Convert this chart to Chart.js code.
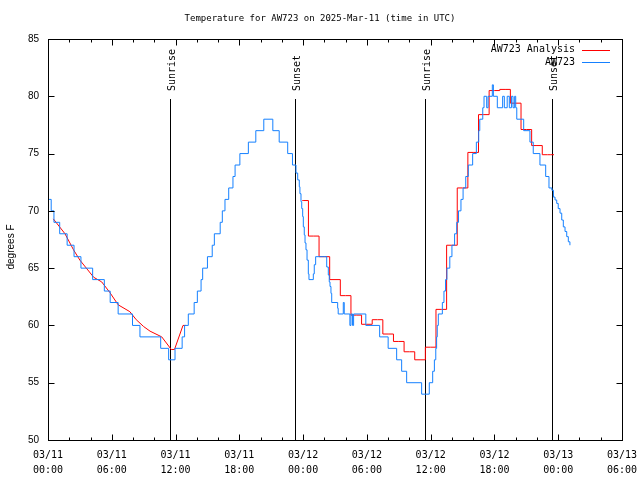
<!DOCTYPE html>
<html>
<head>
<meta charset="utf-8">
<title>Temperature for AW723</title>
<script src="https://cdn.jsdelivr.net/npm/chart.js@4/dist/chart.umd.min.js"></script>
<style>
  html, body { margin: 0; padding: 0; background: #fff; }
  canvas { display: block; }
</style>
</head>
<body>
<canvas id="chart" width="640" height="480"></canvas>
<script>
// all times are hours since 03/11 00:00 UTC
const titleText = 'Temperature for AW723 on 2025-Mar-11 (time in UTC)';
const yAxisLabel = 'degrees F';

const xTickDays  = ['03/11', '03/11', '03/11', '03/11', '03/12', '03/12', '03/12', '03/12', '03/13', '03/13'];
const xTickTimes = ['00:00', '06:00', '12:00', '18:00', '00:00', '06:00', '12:00', '18:00', '00:00', '06:00'];

const sunHours  = [11.48, 23.26, 35.49, 47.37];
const sunLabels = ['Sunrise', 'Sunset', 'Sunrise', 'Sunset'];

// station observations (time of each change, new value)
const blueHours = [0.10, 0.30, 0.56, 1.10, 1.80, 2.45, 3.10, 4.20, 5.30, 5.85, 6.60, 7.95, 8.65, 10.60, 11.35,
  11.95, 12.62, 12.85, 13.20, 13.75, 14.05, 14.40, 14.55, 15.00, 15.45, 15.65, 16.20, 16.40, 16.65, 17.00,
  17.40, 17.60, 18.05, 18.85, 19.55, 20.30, 21.15, 21.75, 22.55, 23.00, 23.33, 23.49, 23.64, 23.70, 23.80,
  23.87, 23.96, 24.02, 24.11, 24.18, 24.27, 24.37, 24.49, 24.55, 24.96, 25.05, 25.18, 26.22, 26.37, 26.46,
  26.53, 26.62, 26.69, 27.25, 27.30, 27.78, 27.87, 28.40, 28.50, 28.65, 28.75, 29.90, 31.20, 32.00, 32.80,
  33.27, 33.74, 35.15, 35.87, 36.19, 36.35, 36.48, 36.56, 36.62, 36.72, 37.10, 37.25, 37.40, 37.53, 37.80,
  38.00, 38.25, 38.45, 38.62, 38.85, 39.05, 39.30, 39.54, 39.95, 40.30, 40.52, 40.62, 40.90, 41.02, 41.27,
  41.40, 41.80, 41.90, 42.27, 42.77, 42.93, 43.20, 43.40, 43.60, 43.75, 43.90, 44.00, 44.10, 44.75, 45.34,
  45.65, 46.28, 46.82, 47.13, 47.40, 47.55, 47.70, 47.86, 48.00, 48.17, 48.33, 48.48, 48.64, 48.80, 48.95,
  49.10];
const blueTemps = [71, 70, 69, 68, 67, 66, 65, 64, 63, 62, 61, 60, 59, 58, 57,
  58, 59, 60, 61, 62, 63, 64, 65, 66, 67, 68, 69, 70, 71, 72,
  73, 74, 75, 76, 77, 78, 77, 76, 75, 74, 73.3, 72.7, 72.1, 71.5, 70.8,
  70.2, 69.5, 68.6, 67.9, 67.2, 66.6, 65.7, 64.5, 64, 64.5, 65.3, 66, 65.1, 64.4, 63.8,
  63.4, 62.8, 62, 61.5, 61, 62, 61, 60, 61, 60, 61, 60, 59, 58, 57,
  56, 55, 54, 55, 56, 57, 58, 59, 60, 61, 62, 63, 64, 65, 66,
  67, 68, 69, 70, 71, 72, 73, 74, 75, 76, 77, 78, 79, 80, 79,
  80, 81, 80, 79, 80, 79, 80, 79, 80, 79, 80, 79, 78, 77, 76,
  75, 74, 73, 72, 71.8, 71.2, 70.95, 70.65, 70.2, 69.8, 69.2, 68.6, 68.2, 67.75, 67.3,
  67.0];

// analysis, first day (fine resolution)
const redEarlyHours = [0.5, 1.6, 2.4, 3.0, 4.3, 5.05, 5.8, 6.6, 7.7, 8.3, 9.0, 9.6, 10.7, 11.6, 11.9, 12.7, 13.0];
const redEarlyTemps = [69.3, 68.0, 66.6, 65.7, 64.2, 63.8, 62.9, 61.8, 61.2, 60.5, 59.9, 59.5, 59.0, 57.9, 57.9, 60.0, 60.0];

// analysis, hourly values
const redHourlyHours = [23.9, 24, 25, 26, 27, 28, 29, 30, 31, 32, 33, 34, 35, 36, 37, 38, 39, 40, 41, 42, 43, 44, 45, 46, 47, 47.6];
const redHourlyTemps = [70.9, 70.9, 67.8, 66.0, 64.0, 62.6, 60.9, 60.1, 60.5, 59.25, 58.6, 57.7, 57.0, 58.1, 61.4,
  67.0, 72.0, 75.1, 78.4, 80.5, 80.6, 79.4, 77.1, 75.7, 74.9, 74.9];

const redColor = '#ff0000';
const blueColor = '#1580ff';
const monoFont = '"DejaVu Sans Mono", monospace';
const sansFont = '"Liberation Sans", Arial, sans-serif';

function zip(xs, ys) {
    return xs.map((x, i) => ({ x: x, y: ys[i] }));
}

// gnuplot style border, inward ticks, labels and key
const gnuplotDecor = {
    id: 'gnuplotDecor',
    beforeDatasetsDraw(chart) {
        const ctx = chart.ctx;
        const xs = chart.scales.x, ys = chart.scales.y;
        ctx.save();
        ctx.strokeStyle = '#000';
        ctx.lineWidth = 1;
        sunHours.forEach(h => {
            const px = Math.round(xs.getPixelForValue(h)) + 0.5;
            ctx.beginPath();
            ctx.moveTo(px, Math.round(ys.getPixelForValue(79.8)));
            ctx.lineTo(px, ys.getPixelForValue(50));
            ctx.stroke();
        });
        ctx.restore();
    },
    afterDatasetsDraw(chart) {
        const ctx = chart.ctx;
        const a = chart.chartArea;
        const xs = chart.scales.x, ys = chart.scales.y;
        const L = Math.round(a.left) + 0.5, R = Math.round(a.right) + 0.5;
        const T = Math.round(a.top) + 0.5, B = Math.round(a.bottom) + 0.5;
        ctx.save();
        ctx.strokeStyle = '#000';
        ctx.lineWidth = 1;
        ctx.strokeRect(L, T, R - L, B - T);

        ctx.beginPath();
        for (let h = 0; h <= 54; h += 2) {
            const px = Math.round(xs.getPixelForValue(h)) + 0.5;
            const len = h % 6 === 0 ? 6 : 3;
            ctx.moveTo(px, B); ctx.lineTo(px, B - len);
            ctx.moveTo(px, T); ctx.lineTo(px, T + len);
        }
        for (let t = 50; t <= 85; t += 5) {
            const py = Math.round(ys.getPixelForValue(t)) + 0.5;
            ctx.moveTo(L, py); ctx.lineTo(L + 6, py);
            ctx.moveTo(R, py); ctx.lineTo(R - 6, py);
        }
        ctx.stroke();

        ctx.fillStyle = '#000';
        // title
        ctx.font = '9px ' + monoFont;
        ctx.textAlign = 'center';
        ctx.textBaseline = 'middle';
        ctx.fillText(titleText, 320, 19);

        // y axis title
        ctx.save();
        ctx.translate(11, 247);
        ctx.rotate(-Math.PI / 2);
        ctx.font = '10px ' + sansFont;
        ctx.fillText(yAxisLabel, 0, 0);
        ctx.restore();

        // sunrise / sunset labels
        ctx.font = '10px ' + monoFont;
        sunHours.forEach((h, i) => {
            const px = Math.round(xs.getPixelForValue(h)) + 2.5;
            ctx.save();
            ctx.translate(px, Math.round(ys.getPixelForValue(79.8)) - 8);
            ctx.rotate(-Math.PI / 2);
            ctx.textAlign = 'left';
            ctx.textBaseline = 'middle';
            ctx.fillText(sunLabels[i], 0, 0);
            ctx.restore();
        });

        // key
        const seen = [];
        chart.data.datasets.forEach(ds => {
            if (!seen.find(s => s.label === ds.label)) seen.push(ds);
        });
        ctx.textAlign = 'right';
        ctx.textBaseline = 'middle';
        seen.forEach((ds, i) => {
            const y = 49.5 + i * 12.5;
            ctx.fillStyle = '#000';
            ctx.fillText(ds.label, 575, y);
            ctx.strokeStyle = ds.borderColor;
            ctx.beginPath();
            ctx.moveTo(582, Math.round(y) + 0.5);
            ctx.lineTo(610, Math.round(y) + 0.5);
            ctx.stroke();
        });
        ctx.restore();
    }
};

const chart = new Chart(document.getElementById('chart'), {
    type: 'line',
    data: {
        datasets: [
            { label: 'AW723 Analysis', data: zip(redEarlyHours, redEarlyTemps), borderColor: redColor,
              borderWidth: 1, pointRadius: 0, tension: 0, order: 1 },
            { label: 'AW723 Analysis', data: zip(redHourlyHours, redHourlyTemps), borderColor: redColor,
              borderWidth: 1, pointRadius: 0, stepped: 'middle', order: 1 },
            { label: 'AW723', data: zip(blueHours, blueTemps), borderColor: blueColor,
              borderWidth: 1, pointRadius: 0, stepped: true, order: 0 }
        ]
    },
    options: {
        responsive: false,
        animation: false,
        devicePixelRatio: 1,
        layout: { padding: { top: 39, right: 18, left: 0, bottom: 0 } },
        plugins: {
            legend: { display: false },
            title: { display: false },
            tooltip: { enabled: false }
        },
        scales: {
            x: {
                type: 'linear',
                min: 0,
                max: 54,
                grid: { display: false, drawTicks: false },
                border: { display: false },
                ticks: {
                    stepSize: 6,
                    autoSkip: false,
                    maxRotation: 0,
                    padding: 8,
                    color: '#000',
                    font: { family: monoFont, size: 10, lineHeight: 1.5 },
                    callback: v => [xTickDays[v / 6], xTickTimes[v / 6]]
                },
                afterFit: s => {
                    s.height = 40;
                    s.paddingLeft = 0;
                    s.paddingRight = 0;
                }
            },
            y: {
                min: 50,
                max: 85,
                grid: { display: false, drawTicks: false },
                border: { display: false },
                ticks: {
                    stepSize: 5,
                    padding: 9,
                    color: '#000',
                    font: { family: sansFont, size: 10 }
                },
                afterFit: s => { s.width = 48; }
            }
        }
    },
    plugins: [gnuplotDecor]
});
</script>
</body>
</html>
